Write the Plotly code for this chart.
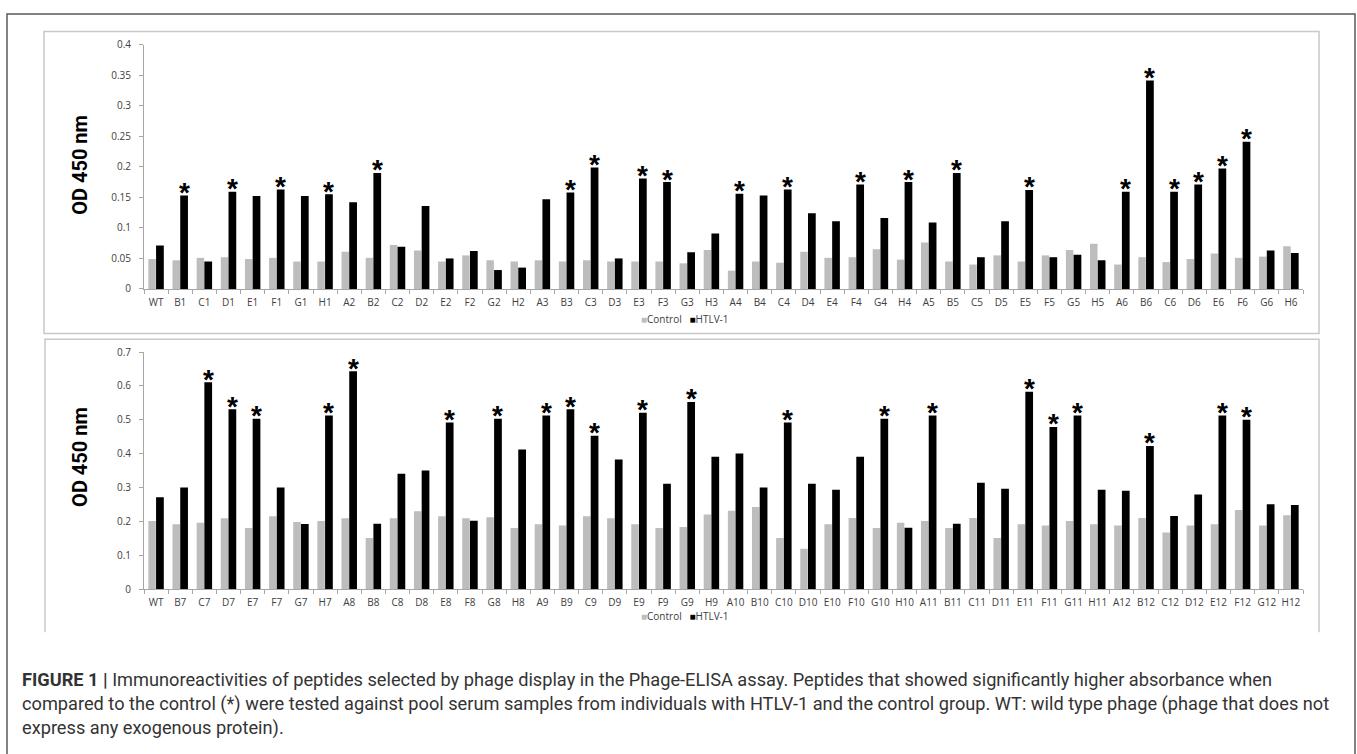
import plotly.graph_objects as go

W, H = 1357, 754

upper_labels = ["WT", "B1", "C1", "D1", "E1", "F1", "G1", "H1",
                "A2", "B2", "C2", "D2", "E2", "F2", "G2", "H2",
                "A3", "B3", "C3", "D3", "E3", "F3", "G3", "H3",
                "A4", "B4", "C4", "D4", "E4", "F4", "G4", "H4",
                "A5", "B5", "C5", "D5", "E5", "F5", "G5", "H5",
                "A6", "B6", "C6", "D6", "E6", "F6", "G6", "H6"]
upper_control = [0.049, 0.047, 0.051, 0.052, 0.049, 0.051, 0.045, 0.045,
                 0.061, 0.051, 0.072, 0.063, 0.045, 0.055, 0.047, 0.045,
                 0.047, 0.045, 0.047, 0.045, 0.045, 0.045, 0.042, 0.064,
                 0.030, 0.045, 0.043, 0.061, 0.051, 0.052, 0.065, 0.048,
                 0.076, 0.045, 0.040, 0.055, 0.045, 0.055, 0.064, 0.074,
                 0.040, 0.052, 0.044, 0.049, 0.058, 0.051, 0.053, 0.070]
upper_htlv = [0.071, 0.153, 0.045, 0.159, 0.152, 0.163, 0.152, 0.155,
              0.142, 0.190, 0.069, 0.136, 0.050, 0.062, 0.031, 0.035,
              0.147, 0.158, 0.199, 0.050, 0.181, 0.175, 0.060, 0.091,
              0.156, 0.153, 0.163, 0.124, 0.111, 0.171, 0.116, 0.175,
              0.109, 0.190, 0.052, 0.111, 0.162, 0.052, 0.056, 0.047,
              0.159, 0.341, 0.159, 0.171, 0.197, 0.241, 0.063, 0.059]
upper_sig = ["B1", "D1", "F1", "H1", "B2", "B3", "C3", "E3", "F3", "A4", "C4",
             "F4", "H4", "B5", "E5", "A6", "B6", "C6", "D6", "E6", "F6"]

lower_labels = ["WT", "B7", "C7", "D7", "E7", "F7", "G7", "H7",
                "A8", "B8", "C8", "D8", "E8", "F8", "G8", "H8",
                "A9", "B9", "C9", "D9", "E9", "F9", "G9", "H9",
                "A10", "B10", "C10", "D10", "E10", "F10", "G10", "H10",
                "A11", "B11", "C11", "D11", "E11", "F11", "G11", "H11",
                "A12", "B12", "C12", "D12", "E12", "F12", "G12", "H12"]
lower_control = [0.202, 0.192, 0.197, 0.210, 0.181, 0.216, 0.199, 0.202,
                 0.210, 0.152, 0.210, 0.231, 0.216, 0.210, 0.213, 0.181,
                 0.192, 0.189, 0.216, 0.210, 0.192, 0.181, 0.184, 0.221,
                 0.232, 0.243, 0.152, 0.120, 0.192, 0.211, 0.181, 0.197,
                 0.202, 0.181, 0.211, 0.152, 0.192, 0.189, 0.202, 0.192,
                 0.189, 0.211, 0.168, 0.189, 0.192, 0.234, 0.189, 0.219]
lower_htlv = [0.272, 0.301, 0.611, 0.531, 0.503, 0.301, 0.193, 0.513,
              0.643, 0.194, 0.341, 0.351, 0.492, 0.203, 0.503, 0.413,
              0.513, 0.531, 0.453, 0.383, 0.521, 0.312, 0.553, 0.391,
              0.401, 0.301, 0.492, 0.312, 0.294, 0.391, 0.503, 0.182,
              0.513, 0.194, 0.315, 0.297, 0.583, 0.479, 0.513, 0.294,
              0.291, 0.423, 0.217, 0.280, 0.513, 0.500, 0.251, 0.249]
lower_sig = ["C7", "D7", "E7", "H7", "A8", "E8", "G8", "A9", "B9", "C9", "E9",
             "G9", "C10", "G10", "A11", "E11", "F11", "G11", "B12", "E12", "F12"]

upper_ticks = [0, 0.05, 0.1, 0.15, 0.2, 0.25, 0.3, 0.35, 0.4]
lower_ticks = [0, 0.1, 0.2, 0.3, 0.4, 0.5, 0.6, 0.7]

series_names = ["Control", "HTLV-1"]
series_colors = ["#bdbdbd", "#000000"]

caption_lines = [
    "<b>FIGURE 1 |</b> Immunoreactivities of peptides selected by phage display in the Phage-ELISA assay. Peptides that showed significantly higher absorbance when",
    "compared to the control (*) were tested against pool serum samples from individuals with HTLV-1 and the control group. WT: wild type phage (phage that does not",
    "express any exogenous protein).",
]


def px(x):
    return x / W


def py(y):
    return 1 - y / H


fig = go.Figure()

TICKFONT = dict(family="Open Sans, Lato, sans-serif", size=10, color="#404040")
AXCOL = "#a6a6a6"
ann = []


def add_panel(labels, ctrl, htlv, sig, xa, ya):
    idx = list(range(len(labels)))
    fig.add_trace(go.Bar(x=idx, y=ctrl, name=series_names[0], marker_color=series_colors[0],
                         offset=-0.32, width=0.31, xaxis=xa, yaxis=ya, showlegend=False,
                         marker_line_width=0))
    fig.add_trace(go.Bar(x=idx, y=htlv, name=series_names[1], marker_color=series_colors[1],
                         offset=0.0, width=0.32, xaxis=xa, yaxis=ya, showlegend=False,
                         marker_line_width=0))
    for s in sig:
        i = labels.index(s)
        ann.append(dict(xref=xa, yref=ya, x=i + 0.16, y=htlv[i], text="*", showarrow=False,
                        xanchor="center", yanchor="middle", yshift=3,
                        font=dict(family="Liberation Sans, Arial", size=28,
                                  color="#000000", weight="bold")))


add_panel(upper_labels, upper_control, upper_htlv, upper_sig, "x", "y")
add_panel(lower_labels, lower_control, lower_htlv, lower_sig, "x2", "y2")


def xaxis_cfg(labels, dom, anchor):
    n = len(labels)
    return dict(domain=dom, anchor=anchor, range=[-0.5, n - 0.5], tickmode="array",
                tickvals=list(range(n)), ticktext=labels, ticks="", showline=True,
                linecolor=AXCOL, linewidth=1, showgrid=False, zeroline=False,
                tickfont=TICKFONT, ticklabelstandoff=4,
                minor=dict(tickmode="array", tickvals=[i + 0.5 for i in range(-1, n)],
                           ticks="outside", ticklen=4, tickcolor=AXCOL, tickwidth=1,
                           showgrid=False))


def yaxis_cfg(ticks, dom, anchor):
    return dict(domain=dom, anchor=anchor, range=[0, ticks[-1]], tickmode="array",
                tickvals=ticks, ticktext=[("%g" % t) for t in ticks], ticks="outside",
                ticklen=4, tickcolor=AXCOL, showline=True, linecolor=AXCOL, linewidth=1,
                showgrid=False, zeroline=False, tickfont=TICKFONT, ticklabelstandoff=6)


xdom = [px(144), px(1303)]
fig.update_layout(
    width=W, height=H, margin=dict(l=0, r=0, t=0, b=0),
    paper_bgcolor="white", plot_bgcolor="white",
    barmode="overlay", showlegend=False,
    xaxis=xaxis_cfg(upper_labels, xdom, "y"),
    yaxis=yaxis_cfg(upper_ticks, [py(286.7), py(37.3)], "x"),
    xaxis2=xaxis_cfg(lower_labels, xdom, "y2"),
    yaxis2=yaxis_cfg(lower_ticks, [py(593.3), py(351)], "x2"),
)

shapes = [
    dict(type="rect", xref="paper", yref="paper", x0=px(7), x1=px(1355), y0=py(6), y1=py(800),
         line=dict(color="#5a5a5a", width=1.5)),
    dict(type="rect", xref="paper", yref="paper", x0=px(44), x1=px(1319), y0=py(24), y1=py(332),
         line=dict(color="#c8c8c8", width=1.5)),
    dict(type="path", xref="paper", yref="paper",
         path="M %f,%f L %f,%f L %f,%f L %f,%f" % (px(45), py(637), px(45), py(338),
                                                   px(1319), py(338), px(1319), py(637)),
         line=dict(color="#c8c8c8", width=1.5)),
]
fig.update_layout(shapes=shapes)

for yc in (160, 458):
    ann.append(dict(xref="paper", yref="paper", x=px(80), y=py(yc), xanchor="center",
                    yanchor="middle", text="OD 450 nm", textangle=-90, showarrow=False,
                    font=dict(family="Roboto, sans-serif", size=20, color="#000000", weight="bold")))
for yl in (317, 620):
    ann.append(dict(xref="paper", yref="paper", x=px(685), y=py(yl), xanchor="center",
                    yanchor="middle",
                    text=('<span style="color:%s">■</span>%s   '
                          '<span style="color:%s">■</span>%s') % (series_colors[0], series_names[0],
                                                                   series_colors[1], series_names[1]),
                    showarrow=False,
                    font=dict(family="Open Sans, Lato, sans-serif", size=10, color="#404040")))
for line, yl in zip(caption_lines, (685, 710, 735)):
    ann.append(dict(xref="paper", yref="paper", x=px(20), y=py(yl), xanchor="left",
                    yanchor="middle", text=line, showarrow=False, align="left",
                    font=dict(family="Roboto, sans-serif", size=18.2, color="#333333")))
fig.update_layout(annotations=ann)

fig.write_html("out.html", config={"displayModeBar": False},
               post_script="document.body.style.margin='0';document.body.style.overflow='hidden';")
